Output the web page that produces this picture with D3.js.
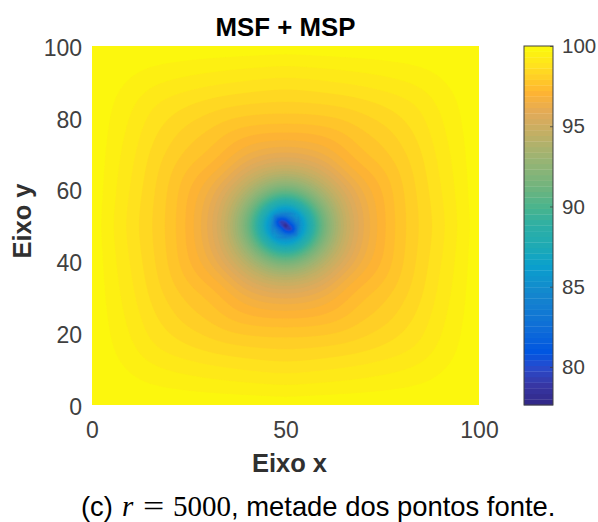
<!DOCTYPE html>
<html><head><meta charset="utf-8">
<script src="https://cdn.jsdelivr.net/npm/d3@7"></script>
<style>html,body{margin:0;padding:0;background:#fff}svg{display:block}text{font-family:"Liberation Sans",Arial,sans-serif}</style>
</head><body><div id="c"></div>
<script>
const titleText = "MSF + MSP";
const xLabel = "Eixo x", yLabel = "Eixo y";
const xTicks = [0, 50, 100];
const yTicks = [0, 20, 40, 60, 80, 100];
const barTicks = [80, 85, 90, 95, 100];
const vMin = 77.63, vMax = 100;

// Distance from the nearest edge, in axis units, for the quadrant table below.
const edgeDist = [0, 3, 6, 10, 15, 20, 25, 30, 35, 40, 44, 46, 48, 49, 50];
const quadrant = [
 [100,100,100,100,100,100,100,100,100,100,100,100,100,100,100],
 [100,99.97,99.93,99.88,99.82,99.76,99.72,99.68,99.65,99.62,99.6,99.58,99.56,99.55,99.55],
 [100,99.93,99.85,99.75,99.62,99.55,99.48,99.42,99.37,99.32,99.29,99.27,99.26,99.25,99.25],
 [100,99.88,99.75,99.62,99.42,99.28,99.18,99.08,99.0,98.92,98.86,98.83,98.81,98.8,98.8],
 [100,99.82,99.62,99.42,99.05,98.85,98.7,98.55,98.45,98.38,98.33,98.32,98.3,98.3,98.3],
 [100,99.76,99.55,99.28,98.85,98.6,98.35,98.15,97.95,97.85,97.82,97.8,97.8,97.8,97.8],
 [100,99.72,99.48,99.18,98.7,98.35,98.0,97.8,97.45,97.2,97.12,97.1,97.1,97.1,97.1],
 [100,99.68,99.42,99.08,98.55,98.15,97.8,97.55,97.1,96.6,96.35,96.25,96.2,96.2,96.2],
 [100,99.65,99.37,99.0,98.45,97.95,97.45,97.1,96.6,95.5,95.0,94.8,94.65,94.6,94.6],
 [100,99.62,99.32,98.92,98.38,97.85,97.2,96.6,95.5,94.2,92.8,92.0,91.5,91.3,91.2],
 [100,99.6,99.29,98.86,98.33,97.82,97.12,96.35,95.0,92.8,90.0,88.5,87.5,87.3,87.2],
 [100,99.58,99.27,98.83,98.32,97.8,97.1,96.25,94.8,92.0,88.5,87.0,85.8,85.5,85.4],
 [100,99.56,99.26,98.81,98.3,97.8,97.1,96.2,94.65,91.5,87.5,85.8,82.6,81.6,81.2],
 [100,99.55,99.25,98.8,98.3,97.8,97.1,96.2,94.6,91.3,87.3,85.5,81.6,80.1,79.6],
 [100,99.55,99.25,98.8,98.3,97.8,97.1,96.2,94.6,91.2,87.2,85.4,81.2,79.6,77.7]
];
// Central dip, read separately because it leans along one diagonal.
const coreX = [47, 48, 49, 50, 51, 52, 53];
const coreY = [53, 52, 51, 50, 49, 48, 47];
const core = [
 [84.2,84.0,83.6,83.8,84.6,85.2,85.6],
 [83.6,81.8,81.2,81.6,82.8,84.0,85.2],
 [83.0,80.6,79.0,79.6,81.4,82.8,84.6],
 [83.4,81.2,79.7,77.7,79.7,81.2,83.4],
 [84.6,82.8,81.4,79.6,79.0,80.6,83.0],
 [85.2,84.0,82.8,81.6,81.2,81.8,83.6],
 [85.6,85.2,84.6,83.8,83.6,84.0,84.2]
];
// Colormap stops.
const stopValues = [77.7, 78.9, 80, 80.9, 82.5, 84.6, 86.3, 87.5, 88.8, 90, 91.3, 93, 94.6, 95.8, 97.1, 98.75, 100];
const stopColors = ["#322887","#3737a5","#284bcd","#0055e1","#0f6ed7","#1487cd","#0aa0cd","#1eaab4","#2dafa5","#4bb48c","#73b47d","#9bb473","#c3af64","#e1aa5a","#ffb432","#ffe11e","#fcfa0a"];

const W = 598, H = 522;
const plot = {l: 92, r: 479, t: 46, b: 405};
const bar = {l: 524, r: 553, t: 46, b: 405};
const x = d3.scaleLinear().domain([0, 100]).range([plot.l, plot.r]);
const y = d3.scaleLinear().domain([0, 100]).range([plot.b, plot.t]);
const barY = d3.scaleLinear().domain([vMin, vMax]).range([bar.b, bar.t]);
const colorAt = d3.scaleLinear().domain(stopValues).range(stopColors).clamp(true);
const nBands = 64;
const bandW = (vMax - vMin) / nBands;
const barBands = d3.range(nBands);
const colors = barBands.map(i => d3.color(colorAt(vMin + (i + 0.5) * bandW)).formatHex());

function bilinear(xs, ys, table, px, py) {
  const bis = d3.bisector(d => d).right;
  const i = Math.min(Math.max(bis(xs, px) - 1, 0), xs.length - 2);
  const j = Math.min(Math.max(bis(ys, py) - 1, 0), ys.length - 2);
  const u = (px - xs[i]) / (xs[i+1] - xs[i]), v = (py - ys[j]) / (ys[j+1] - ys[j]);
  return (1-u)*(1-v)*table[j][i] + u*(1-v)*table[j][i+1] + (1-u)*v*table[j+1][i] + u*v*table[j+1][i+1];
}
const coreYAsc = coreY.slice().reverse(), coreAsc = core.slice().reverse();
function field(px, py) {
  if (px >= 47 && px <= 53 && py >= 47 && py <= 53) return bilinear(coreX, coreYAsc, coreAsc, px, py);
  return bilinear(edgeDist, edgeDist, quadrant, Math.min(px, 100-px), Math.min(py, 100-py));
}

const svg = d3.select("#c").append("svg").attr("width", W).attr("height", H).attr("viewBox", `0 0 ${W} ${H}`);

// Surface, as filled iso-bands of the colormap. The table is coarse, so the
// sampled surface is softened away from the dip to hide the table's facets.
const nx = 388, ny = 360;
const raw = new Float64Array(nx * ny);
const dist = new Float64Array(nx * ny);
for (let j = 0; j < ny; j++) for (let i = 0; i < nx; i++) {
  const dx = x.invert(plot.l + (i/(nx-1))*(plot.r-plot.l)), dy = y.invert(plot.t + (j/(ny-1))*(plot.b-plot.t));
  raw[j*nx + i] = field(dx, dy);
  dist[j*nx + i] = Math.hypot(dx-50, dy-50);
}
const soft = Float64Array.from(raw);
d3.blur2({data: soft, width: nx, height: ny}, 9);
const samples = raw.map((v, k) => {
  const w = Math.min(1, Math.max(0, (dist[k] - 3) / 6));
  return v * (1-w) + soft[k] * w;
});
const thresholds = colors.map((_, i) => vMin + i * bandW);
const contours = d3.contours().size([nx, ny]).smooth(true).thresholds(thresholds)(samples);
svg.append("clipPath").attr("id", "pc").append("rect")
  .attr("x", plot.l).attr("y", plot.t).attr("width", plot.r-plot.l).attr("height", plot.b-plot.t);
const gSurf = svg.append("g").attr("clip-path", "url(#pc)");
const path = d3.geoPath(d3.geoTransform({point(a, b) {
  this.stream.point(plot.l + (a-0.5)/(nx-1)*(plot.r-plot.l), plot.t + (b-0.5)/(ny-1)*(plot.b-plot.t));
}}));
gSurf.selectAll("path").data(contours).join("path")
  .attr("d", path).attr("fill", (d, i) => colors[i]).attr("stroke", (d, i) => colors[i]).attr("stroke-width", 0.3);

// Axes
const tickCol = "#404040";
const gx = svg.append("g").attr("transform", `translate(0,${plot.b})`)
  .call(d3.axisBottom(x).tickValues(xTicks).tickSize(0).tickPadding(17));
const gy = svg.append("g").attr("transform", `translate(${plot.l},0)`)
  .call(d3.axisLeft(y).tickValues(yTicks).tickSize(0).tickPadding(10));
[gx, gy].forEach(g => { g.select(".domain").remove(); g.selectAll("text").attr("font-size", 23).attr("fill", tickCol).attr("font-family", null); });
gy.selectAll("text").attr("dy", "0.4em");

// Colorbar
svg.append("g").selectAll("rect").data(barBands).join("rect")
  .attr("x", bar.l).attr("width", bar.r - bar.l)
  .attr("y", i => barY(vMin + (i+1)*bandW)).attr("height", i => barY(vMin + i*bandW) - barY(vMin + (i+1)*bandW) + 0.3)
  .attr("fill", i => colors[i]);
const gb = svg.append("g").attr("transform", `translate(${bar.r},0)`)
  .call(d3.axisRight(barY).tickValues(barTicks).tickSizeInner(-3).tickSizeOuter(0).tickPadding(9));
gb.select(".domain").remove();
gb.selectAll("line").attr("stroke", "#404040").attr("stroke-width", 0.8);
gb.selectAll("text").attr("font-size", 20.5).attr("fill", tickCol).attr("font-family", null);
svg.append("rect").attr("x", bar.l).attr("y", bar.t).attr("width", bar.r-bar.l).attr("height", bar.b-bar.t)
  .attr("fill", "none").attr("stroke", "#404040").attr("stroke-width", 1);

// Labels
svg.append("text").attr("x", 285.5).attr("y", 36).attr("text-anchor", "middle")
  .attr("font-size", 25.8).attr("font-weight", "bold").attr("fill", "#000").text(titleText);
svg.append("text").attr("x", 289.5).attr("y", 472).attr("text-anchor", "middle")
  .attr("font-size", 25.5).attr("font-weight", "bold").attr("fill", "#303030").text(xLabel);
svg.append("text").attr("transform", "translate(31,221) rotate(-90)").attr("text-anchor", "middle")
  .attr("font-size", 25.5).attr("font-weight", "bold").attr("fill", "#303030").text(yLabel);

const capY = 516;
const serif = '"Liberation Serif", serif';
const gc = svg.append("g").attr("fill", "#000");
gc.append("text").attr("x", 81).attr("y", capY).attr("font-size", 27.4).text("(c)");
gc.append("text").attr("x", 122).attr("y", capY).style("font-family", serif).style("font-style", "italic").attr("font-size", 29).text("r");
gc.append("text").attr("transform", `translate(143,${capY}) scale(1.3,1)`).style("font-family", serif).attr("font-size", 29).text("=");
gc.append("text").attr("x", 173).attr("y", capY).style("font-family", serif).attr("font-size", 29).text("5000");
gc.append("text").attr("x", 231).attr("y", capY).attr("font-size", 27.4).text(", metade dos pontos fonte.");
</script></body></html>
